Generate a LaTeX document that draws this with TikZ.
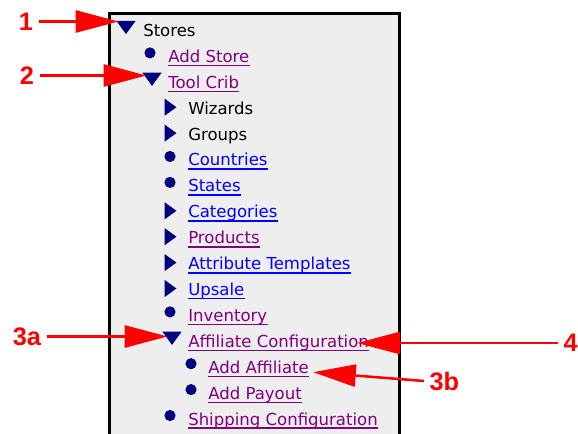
\documentclass[tikz,border=0pt]{standalone}
\usepackage{fontspec}
\usetikzlibrary{arrows.meta,calc}
\newfontfamily\menufont{DejaVu Sans}
\newfontfamily\labfont{Liberation Sans}
\definecolor{navy}{HTML}{000080}
\definecolor{visited}{HTML}{800080}
\definecolor{linkblue}{HTML}{0000FF}
\definecolor{panelgray}{HTML}{EEEEEE}
\definecolor{callred}{HTML}{FF0000}
\tikzset{
  menutext/.style={anchor=base west, inner sep=0pt, font=\menufont\fontsize{12.4pt}{14pt}\selectfont},
  plain/.style={menutext, text=black},
  vlink/.style={menutext, text=visited},
  blink/.style={menutext, text=linkblue},
  dtri/.style={inner sep=0pt, minimum width=14pt, minimum height=9.5pt},
  rtri/.style={inner sep=0pt, minimum width=8.5pt, minimum height=12.5pt},
  dot/.style={circle, fill=navy, inner sep=0pt, minimum size=8.4pt},
  lab/.style={inner xsep=4pt, inner ysep=0pt, text=callred, font=\labfont\bfseries\fontsize{19pt}{21pt}\selectfont},
  callout/.style={draw=callred, line width=1.9pt, -{Triangle[length=32pt,width=16.5pt]}},
}
\newcommand\downtri[2]{\node[dtri] (#1) at (#2) {};
  \fill[navy] (#1.north west) -- (#1.north east) -- (#1.south) -- cycle;}
\newcommand\righttri[2]{\node[rtri] (#1) at (#2) {};
  \fill[navy] (#1.north west) -- (#1.east) -- (#1.south west) -- cycle;}
\newcommand\uline[2]{\draw[#2, line width=1.1pt] ([yshift=-2.4pt]#1.base west) -- ([yshift=-2.4pt]#1.base east);}
\begin{document}
\begin{tikzpicture}[x=0.75pt,y=-0.75pt]
\useasboundingbox (0,0) rectangle (578,434);
% panel
\fill[panelgray] (109.5,13.5) rectangle (399.5,440);
\draw[line width=2.25pt] (109.5,440) -- (109.5,13.5) -- (399.5,13.5) -- (399.5,440);
% rows: baseline B_i = 36.5 + 25.9 i
% 0 Stores
\downtri{i0}{126,{36.5+25.9*0-9}}
\node[plain] (t0) at (143,{36.5+25.9*0}) {Stores};
% 1 Add Store
\node[dot] (i1) at (150,{36.5+25.9*1-9.5}) {};
\node[vlink] (t1) at (168,{36.5+25.9*1}) {Add Store}; \uline{t1}{visited}
% 2 Tool Crib
\downtri{i2}{152,{36.5+25.9*2-9}}
\node[vlink] (t2) at (168,{36.5+25.9*2}) {Tool Crib}; \uline{t2}{visited}
% 3 Wizards
\righttri{i3}{170.5,{36.5+25.9*3-7}}
\node[plain] (t3) at (188,{36.5+25.9*3}) {Wizards};
% 4 Groups
\righttri{i4}{170.5,{36.5+25.9*4-7}}
\node[plain] (t4) at (188,{36.5+25.9*4}) {Groups};
% 5 Countries
\node[dot] (i5) at (170,{36.5+25.9*5-9.5}) {};
\node[blink] (t5) at (188,{36.5+25.9*5}) {Countries}; \uline{t5}{linkblue}
% 6 States
\node[dot] (i6) at (170,{36.5+25.9*6-9.5}) {};
\node[blink] (t6) at (188,{36.5+25.9*6}) {States}; \uline{t6}{linkblue}
% 7 Categories
\righttri{i7}{170.5,{36.5+25.9*7-7}}
\node[blink] (t7) at (188,{36.5+25.9*7}) {Categories}; \uline{t7}{linkblue}
% 8 Products
\righttri{i8}{170.5,{36.5+25.9*8-7}}
\node[vlink] (t8) at (188,{36.5+25.9*8}) {Products}; \uline{t8}{visited}
% 9 Attribute Templates
\righttri{i9}{170.5,{36.5+25.9*9-7}}
\node[blink] (t9) at (188,{36.5+25.9*9}) {Attribute Templates}; \uline{t9}{linkblue}
% 10 Upsale
\righttri{i10}{170.5,{36.5+25.9*10-7}}
\node[blink] (t10) at (188,{36.5+25.9*10}) {Upsale}; \uline{t10}{linkblue}
% 11 Inventory
\node[dot] (i11) at (170,{36.5+25.9*11-9.5}) {};
\node[vlink] (t11) at (188,{36.5+25.9*11}) {Inventory}; \uline{t11}{visited}
% 12 Affiliate Configuration
\downtri{i12}{172,{36.5+25.9*12-9}}
\node[vlink] (t12) at (188,{36.5+25.9*12}) {Affiliate Configuration}; \uline{t12}{visited}
% 13 Add Affiliate
\node[dot] (i13) at (191,{36.5+25.9*13-9.5}) {};
\node[vlink] (t13) at (208,{36.5+25.9*13}) {Add Affiliate}; \uline{t13}{visited}
% 14 Add Payout
\node[dot] (i14) at (191,{36.5+25.9*14-9.5}) {};
\node[vlink] (t14) at (208,{36.5+25.9*14}) {Add Payout}; \uline{t14}{visited}
% 15 Shipping Configuration
\node[dot] (i15) at (170,{36.5+25.9*15-9.5}) {};
\node[vlink] (t15) at (188,{36.5+25.9*15}) {Shipping Configuration}; \uline{t15}{visited}
% callout labels
\node[lab] (l1) at (26,21.5) {1};
\node[lab] (l2) at (27,75.5) {2};
\node[lab] (l3a) at (27,336.5) {3a};
\node[lab, anchor=west] (l4) at (558,343) {4};
\node[lab, anchor=west] (l3b) at (424,381) {3b};
% callout arrows
\draw[callout, shorten >=-1.5pt] (l1.east) -- (l1.east -| i0.west);
\draw[callout, shorten >=-3pt] (l2.east) -- (l2.east -| i2.west);
\draw[callout, shorten >=-3.75pt] (l3a.east) -- (l3a.east -| i12.west);
\draw[callout, shorten >=-9pt] (l4.west) -- (l4.west -| t12.east);
\draw[callout] (l3b.west) -- ([xshift=3pt,yshift=0.75pt]t13.base east);
\end{tikzpicture}
\end{document}
